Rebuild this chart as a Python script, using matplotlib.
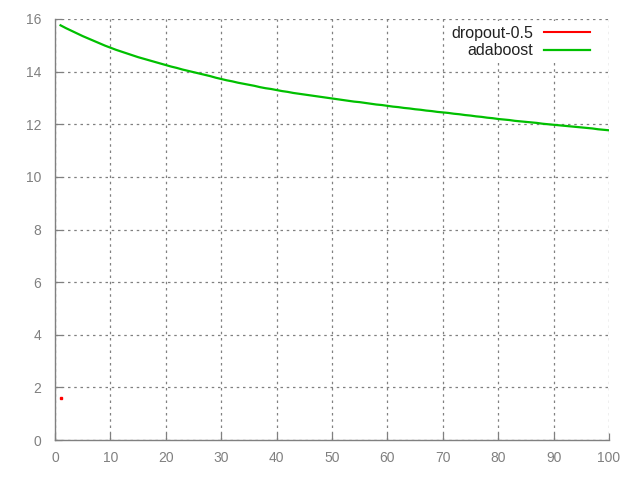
import matplotlib
matplotlib.use("Agg")
import matplotlib.pyplot as plt

plt.rcParams['font.family'] = ['Liberation Sans', 'DejaVu Sans']

dropout_x = [1]
dropout_y = [1.6]

ada_x = list(range(1, 101))
ada_y = [
    15.76, 15.65, 15.55, 15.45, 15.35, 15.26, 15.17, 15.08, 14.99, 14.91,
    14.83, 14.76, 14.69, 14.62, 14.55, 14.49, 14.43, 14.37, 14.31, 14.25,
    14.19, 14.14, 14.08, 14.03, 13.98, 13.93, 13.88, 13.83, 13.77, 13.72,
    13.67, 13.63, 13.58, 13.54, 13.50, 13.46, 13.41, 13.37, 13.34, 13.30,
    13.26, 13.23, 13.19, 13.16, 13.13, 13.10, 13.07, 13.04, 13.01, 12.98,
    12.95, 12.92, 12.89, 12.86, 12.84, 12.81, 12.78, 12.75, 12.73, 12.70,
    12.67, 12.65, 12.62, 12.60, 12.57, 12.55, 12.52, 12.50, 12.47, 12.45,
    12.43, 12.40, 12.38, 12.35, 12.33, 12.30, 12.28, 12.25, 12.23, 12.20,
    12.18, 12.16, 12.13, 12.11, 12.09, 12.07, 12.05, 12.02, 12.00, 11.98,
    11.96, 11.94, 11.92, 11.90, 11.88, 11.86, 11.84, 11.81, 11.79, 11.77,
]

x_ticks = [0, 10, 20, 30, 40, 50, 60, 70, 80, 90, 100]
y_ticks = [0, 2, 4, 6, 8, 10, 12, 14, 16]

fig = plt.figure(figsize=(6.4, 4.8), dpi=100)
ax = fig.add_axes([55/640, 40/480, (609-55)/640, (440-19)/480])

gray = '#808080'
ax.plot(dropout_x, dropout_y, color='#ff0000', lw=1.5, marker='s', markersize=1.5,
        linestyle='-', label='dropout-0.5')
ax.plot(ada_x, ada_y, color='#00c000', lw=1.6, label='adaboost')

ax.set_xlim(0, 100)
ax.set_ylim(0, 16)
ax.set_xticks(x_ticks)
ax.set_yticks(y_ticks)
ax.grid(True, color=gray, linestyle=(0, (2, 3)), linewidth=0.9)
ax.tick_params(direction='in', length=5, color=gray, labelcolor=gray,
               labelsize=10, width=0.9)
ax.tick_params(axis='x', pad=8)
ax.tick_params(axis='y', pad=10)
for s in ['top', 'right']:
    ax.spines[s].set_visible(False)
for s in ['left', 'bottom']:
    ax.spines[s].set_color(gray)
    ax.spines[s].set_linewidth(1.0)

leg = ax.legend(loc='upper right', markerfirst=False, frameon=True, fontsize=11.5,
                handlelength=2.9, handletextpad=0.65, borderaxespad=0,
                borderpad=0.3, labelspacing=0.15,
                bbox_to_anchor=(1 - 14/554, 1 - 2/421))
leg.get_frame().set_edgecolor('none')
leg.get_frame().set_facecolor('white')
leg.get_frame().set_alpha(1)
for t in leg.get_texts():
    t.set_color('#222222')
leg.legend_handles[0].set_marker('')

fig.savefig('out.png', dpi=100)
